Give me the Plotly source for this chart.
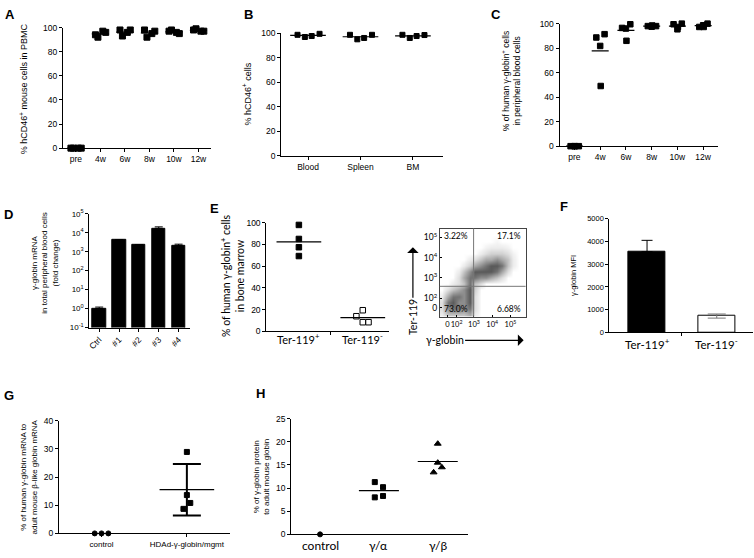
import numpy as np
import plotly.graph_objects as go

W, H = 754, 558

# ---- values ----
# A: % hCD46+ mouse cells in PBMC
a_weeks = ['pre', '4w', '6w', '8w', '10w', '12w']
a_pct = [
    [0, 0, 0, 0],
    [94, 97, 92, 96],
    [98, 96, 93, 98],
    [98, 95, 92, 97],
    [97, 96, 98, 95],
    [98, 97, 99, 97],
]

# B: % hCD46+ cells per tissue
b_tissues = ['Blood', 'Spleen', 'BM']
b_pct = [
    [98.9, 97.1, 97.9, 99.7],
    [98.9, 95.2, 96.3, 98.9],
    [98.9, 96.3, 97.9, 98.7],
]

# C: % of human gamma-globin+ cells in peripheral blood
c_weeks = ['pre', '4w', '6w', '8w', '10w', '12w']
c_pct = [
    [0, 0, 0, 0],
    [88.7, 81.8, 91.4, 49.1],
    [96.5, 96.0, 99.5, 86.0],
    [98.0, 97.5, 98.0, 98.5],
    [99.5, 95.4, 100.0, 97.3],
    [97.3, 98.7, 100.0, 97.3],
]

# D: gamma-globin mRNA fold change
d_samples = ['Ctrl', '#1', '#2', '#3', '#4']
d_fold = [1.0, 4300, 2350, 17000, 2100]
d_err = [0.2, 0, 0, 3500, 400]
d_ticks = [0.1, 1, 10, 100, 1000, 10000, 100000]
d_ticktext = ['10<sup>-1</sup>', '10<sup>0</sup>', '10<sup>1</sup>', '10<sup>2</sup>',
              '10<sup>3</sup>', '10<sup>4</sup>', '10<sup>5</sup>']

# E: % of human gamma-globin+ cells in bone marrow
e_groups = ['Ter-119<sup>+</sup>', 'Ter-119<sup>-</sup>']
e_pos = [97.9, 85.0, 77.4, 69.3]
e_neg = [19.5, 14.0, 8.5, 8.5]

# E (flow plot): density grid, axis in decades (biexponential display)
flow_x = [1.25, 1.55, 1.85, 2.15, 2.45, 2.75, 3.05, 3.35, 3.65, 3.95, 4.25, 4.55, 4.85, 5.15, 5.45, 5.75]
flow_y = [1.2, 1.5, 1.8, 2.1, 2.4, 2.7, 3.0, 3.3, 3.6, 3.9, 4.2, 4.5, 4.8, 5.1, 5.4]
flow_density = [
    [0.5, 2, 2, 2, 2, 3, 0.5, 0, 0, 0, 0, 0, 0, 0, 0, 0],
    [1, 4, 5, 5, 4, 5, 1, 0, 0, 0, 0, 0, 0, 0, 0, 0],
    [1, 5, 6, 4, 4, 6, 1, 0, 0, 0, 0, 0, 0, 0, 0, 0],
    [0.5, 3, 5, 5, 4, 6, 1, 0, 0, 0, 0, 0, 0, 0, 0, 0],
    [0, 1, 2, 3, 4, 6, 1.5, 0, 0, 0, 0, 0, 0, 0, 0, 0],
    [0, 0, 0.5, 1, 2, 5, 2, 1, 0, 0, 0, 0, 0, 0, 0, 0],
    [0, 0, 0, 1, 3, 5, 5, 4, 4, 3, 2, 1, 0, 0, 0, 0],
    [0, 0, 0, 0.5, 2, 4, 6, 6, 6, 6, 5, 3, 1, 0, 0, 0],
    [0, 0, 0, 0, 0.5, 1.5, 3, 4, 5, 6, 6, 5, 2, 0.5, 0, 0],
    [0, 0, 0, 0, 0, 0.5, 1, 2, 3, 3, 4, 3, 2, 0.5, 0, 0],
    [0, 0, 0, 0, 0, 0, 0, 0.5, 1, 1.5, 1.5, 1.5, 1, 0.3, 0, 0],
    [0, 0, 0, 0, 0, 0, 0, 0, 0.3, 0.5, 0.5, 0.5, 0.3, 0, 0, 0],
    [0, 0, 0, 0, 0, 0, 0, 0, 0, 0, 0.2, 0, 0, 0, 0, 0],
    [0] * 16,
    [0] * 16,
]
flow_xticks = [1.55, 2.05, 3, 4, 5]
flow_xticktext = ['0', '10<sup>2</sup>', '10<sup>3</sup>', '10<sup>4</sup>', '10<sup>5</sup>']
flow_yticks = [1.52, 2, 3, 4, 5]
flow_yticktext = ['0', '10<sup>2</sup>', '10<sup>3</sup>', '10<sup>4</sup>', '10<sup>5</sup>']
flow_gate = (2.98, 2.58)
flow_quadrants = ['3.22%', '17.1%', '73.0%', '6.68%']

# F: gamma-globin MFI
f_mfi = [3550, 720]
f_err = [500, 90]

# G: % human gamma-globin mRNA to adult mouse beta-like globin mRNA
g_groups = ['control', 'HDAd-γ-globin/mgmt']
g_control = [0, 0, 0]
g_hdad = [28.9, 13.6, 10.8, 8.7]

# H: % of gamma-globin protein to adult mouse globin
h_groups = ['control', 'γ/α', 'γ/β']
h_control = [0]
h_ga = [11.3, 10.2, 8.3, 8.0]
h_gb = [19.6, 15.5, 14.5, 13.4]

# ---- styling helpers ----
PRISM = 'Liberation Sans, Arial, sans-serif'
CALIBRI = 'Lato, Open Sans, sans-serif'

base_axis = dict(showline=True, linecolor='black', linewidth=1, ticks='outside',
                 ticklen=3, tickwidth=1, tickcolor='black', showgrid=False,
                 zeroline=False, fixedrange=True,
                 tickfont=dict(family=PRISM, size=8.5, color='black'))

layout = {}
annotations = []


def axes(n, box, xr, yr, xkw=None, ykw=None):
    left, right, top, bottom = box
    s = '' if n == 1 else str(n)
    xa = dict(base_axis, domain=[left / W, right / W], range=xr, anchor='y' + s)
    ya = dict(base_axis, domain=[1 - bottom / H, 1 - top / H], range=yr, anchor='x' + s)
    xa.update(xkw or {})
    ya.update(ykw or {})
    layout['xaxis' + s] = xa
    layout['yaxis' + s] = ya
    return s


def cat_labels(s, labels, ypx, size):
    # category labels placed just under the axis line
    for i, lab in enumerate(labels):
        annotations.append(dict(text=lab, x=i, y=1 - ypx / H, xref='x' + s, yref='paper',
                                showarrow=False, xanchor='center', yanchor='middle',
                                font=dict(family=CALIBRI, size=size, color='black')))


def dots(xs, groups, jit, s, symbol='square', size=6, fill='black'):
    px_, py_ = [], []
    for x, vals in zip(xs, groups):
        for j, v in zip(jit, vals):
            px_.append(x + j)
            py_.append(v)
    return go.Scatter(x=px_, y=py_, mode='markers', cliponaxis=False, hoverinfo='skip',
                      marker=dict(symbol=symbol, size=size, color=fill,
                                  line=dict(color='black', width=1)),
                      xaxis='x' + s, yaxis='y' + s)


def mean_lines(xs, groups, half, s, width=1.2):
    lx, ly = [], []
    for x, vals in zip(xs, groups):
        m = float(np.mean(vals))
        lx += [x - half, x + half, None]
        ly += [m, m, None]
    return go.Scatter(x=lx, y=ly, mode='lines', cliponaxis=False, hoverinfo='skip',
                      line=dict(color='black', width=width),
                      xaxis='x' + s, yaxis='y' + s)


fig = go.Figure()

# A
idx = list(range(len(a_weeks)))
s = axes(1, (61, 210, 22, 145), [-0.53, 5.53], [0, 100],
         xkw=dict(tickvals=idx, ticktext=a_weeks),
         ykw=dict(tickvals=[0, 20, 40, 60, 80, 100]))
fig.add_trace(dots(idx, a_pct, [-0.2, 0.1, -0.1, 0.22], s, size=6))
fig.add_trace(mean_lines(idx, a_pct, 0.35, s))

# B
idx = list(range(len(b_tissues)))
s = axes(2, (280, 442, 28, 153), [-0.51, 2.57], [0, 100],
         xkw=dict(tickvals=idx, ticktext=b_tissues),
         ykw=dict(tickvals=[0, 20, 40, 60, 80, 100]))
fig.add_trace(dots(idx, b_pct, [-0.2, -0.06, 0.07, 0.22], s, size=5))
fig.add_trace(mean_lines(idx, b_pct, 0.34, s))

# C
idx = list(range(len(c_weeks)))
s = axes(3, (559, 718, 18, 143), [-0.58, 5.58], [0, 100],
         xkw=dict(tickvals=idx, ticktext=c_weeks),
         ykw=dict(tickvals=[0, 20, 40, 60, 80, 100]))
fig.add_trace(dots(idx, c_pct, [-0.15, 0.0, 0.17, 0.02], s, size=5.5))
fig.add_trace(mean_lines(idx, c_pct, 0.33, s))

# D
idx = list(range(len(d_samples)))
s = axes(4, (87.5, 188, 212, 328), [-0.5, 4.55], [-1, 5],
         xkw=dict(tickvals=idx, ticktext=d_samples, tickangle=-45),
         ykw=dict(type='log', tickvals=d_ticks, ticktext=d_ticktext,
                  tickfont=dict(family=PRISM, size=8, color='black')))
fig.add_trace(go.Bar(x=idx, y=d_fold, width=0.68, marker=dict(color='black', line=dict(color='black', width=1)),
                     error_y=dict(type='data', symmetric=False, array=d_err, arrayminus=[0] * len(d_err),
                                  color='black', thickness=1, width=4),
                     xaxis='x' + s, yaxis='y' + s, hoverinfo='skip'))

# E scatter
s = axes(5, (265, 388, 221, 332), [-0.51, 1.41], [0, 100],
         xkw=dict(tickvals=[0.5], showticklabels=False),
         ykw=dict(tickvals=[0, 20, 40, 60, 80, 100]))
cat_labels(s, e_groups, 339, 11)
fig.add_trace(dots([0], [e_pos], [0, 0, 0, 0], s, size=5.5))
fig.add_trace(dots([1], [e_neg], [0.0, -0.1, 0.0, 0.09], s, size=5.5, fill='white'))
fig.add_trace(mean_lines([0, 1], [e_pos, e_neg], 0.35, s))

# E flow plot
flow_font = dict(family=CALIBRI, size=8.5, color='black')
s = axes(6, (439, 525, 227, 317), [1.13, 5.83], [1.08, 5.43],
         xkw=dict(tickvals=flow_xticks, ticktext=flow_xticktext, mirror=True, ticks='inside',
                  ticklen=2, tickangle=0, tickfont=dict(family=CALIBRI, size=7.5, color='black'),
                  linecolor='#444'),
         ykw=dict(tickvals=flow_yticks, ticktext=flow_yticktext, mirror=True, ticks='inside',
                  ticklen=2, tickfont=flow_font, linecolor='#444'))
fig.add_trace(go.Heatmap(x=flow_x, y=flow_y, z=flow_density, zsmooth='best', showscale=False,
                         colorscale=[[0, 'white'], [0.05, '#f2f2f2'], [0.4, '#b8b8b8'], [1, '#5a5a5a']],
                         zmin=0, zmax=6, xaxis='x' + s, yaxis='y' + s, hoverinfo='skip'))
gate_line = dict(color='#777', width=1)
shapes = [
    dict(type='line', xref='x6', yref='y6 domain', x0=flow_gate[0], x1=flow_gate[0], y0=0, y1=1, line=gate_line),
    dict(type='line', xref='x6 domain', yref='y6', x0=0, x1=1, y0=flow_gate[1], y1=flow_gate[1], line=gate_line),
]
quad_pos = [(0.03, 0.99, 'left', 'top'), (0.97, 0.99, 'right', 'top'),
            (0.03, 0.01, 'left', 'bottom'), (0.97, 0.01, 'right', 'bottom')]
for txt, (qx, qy, xa, ya) in zip(flow_quadrants, quad_pos):
    annotations.append(dict(text=txt, xref='x6 domain', yref='y6 domain', x=qx, y=qy,
                            xanchor=xa, yanchor=ya, showarrow=False, font=flow_font))

# F
s = axes(7, (609, 753, 217, 333), [-0.54, 1.52], [0, 5000],
         xkw=dict(tickvals=[0.5], showticklabels=False),
         ykw=dict(tickvals=[0, 1000, 2000, 3000, 4000, 5000],
                  tickfont=dict(family=PRISM, size=7.5, color='black')))
cat_labels(s, e_groups, 344, 11.5)
fig.add_trace(go.Bar(x=[0], y=[f_mfi[0]], width=0.53,
                     marker=dict(color='black', line=dict(color='black', width=1)),
                     error_y=dict(type='data', symmetric=False, array=[f_err[0]], arrayminus=[0],
                                  color='black', thickness=1, width=5.5),
                     xaxis='x' + s, yaxis='y' + s, hoverinfo='skip'))
fig.add_trace(go.Bar(x=[1], y=[f_mfi[1]], width=0.53,
                     marker=dict(color='white', line=dict(color='black', width=1)),
                     error_y=dict(type='data', array=[f_err[1]], color='#777', thickness=1, width=9),
                     xaxis='x' + s, yaxis='y' + s, hoverinfo='skip'))

# G
s = axes(8, (57, 229, 423, 538), [-0.5, 1.51], [0, 40],
         xkw=dict(tickvals=[0, 1], ticktext=g_groups, tickfont=dict(family=PRISM, size=8, color='black')),
         ykw=dict(tickvals=[0, 10, 20, 30, 40]))
fig.add_trace(dots([0], [g_control], [-0.08, 0, 0.08], s, symbol='circle', size=5))
fig.add_trace(dots([1], [g_hdad], [0, 0, 0.04, -0.04], s, size=5))
g_mean = float(np.mean(g_hdad))
g_sd = float(np.std(g_hdad, ddof=1))
fig.add_trace(mean_lines([1], [g_hdad], 0.32, s, width=1.3))
fig.add_trace(go.Scatter(x=[1], y=[g_mean], mode='markers', marker=dict(size=1, color='rgba(0,0,0,0)'),
                         error_y=dict(type='data', array=[g_sd], color='black', thickness=2, width=14),
                         xaxis='x' + s, yaxis='y' + s, hoverinfo='skip', cliponaxis=False))

# H
s = axes(9, (290, 467, 421, 539), [-0.49, 2.51], [0, 25],
         xkw=dict(tickvals=[0, 1, 2], ticks='', showticklabels=False),
         ykw=dict(tickvals=[0, 5, 10, 15, 20, 25]))
cat_labels(s, h_groups, 550, 12)
fig.add_trace(dots([0], [h_control], [0], s, symbol='circle', size=5))
fig.add_trace(dots([1], [h_ga], [-0.07, 0.07, 0.07, -0.07], s, size=5))
fig.add_trace(dots([2], [h_gb], [0, 0, 0.07, -0.07], s, symbol='triangle-up', size=6))
fig.add_trace(mean_lines([1, 2], [h_ga, h_gb], 0.34, s))

# panel letters
for letter, lx, ly in [('A', 8, 9), ('B', 247, 9), ('C', 495, 9), ('D', 7, 213),
                       ('E', 213, 207), ('F', 563, 205), ('G', 7, 397), ('H', 259, 395)]:
    annotations.append(dict(text=f'<b>{letter}</b>', x=lx / W, y=1 - ly / H, xref='paper', yref='paper',
                            showarrow=False, xanchor='center', yanchor='middle',
                            font=dict(family=PRISM, size=13, color='black')))

# y-axis titles
ytitles = [
    ('% hCD46<sup>+</sup> mouse cells in PBMC', 22, 84, PRISM, 9),
    ('% hCD46<sup>+</sup> cells', 246, 90, PRISM, 9),
    ('% of human γ-globin<sup>+</sup> cells<br>in peripheral blood cells', 511, 77, PRISM, 8.5),
    ('γ-globin mRNA<br>in total peripheral blood cells<br>(fold change)', 43, 262, PRISM, 8),
    ('% of human γ-globin<sup>+</sup> cells<br>in bone marrow', 231, 275, CALIBRI, 10.5),
    ('γ-globin MFI', 573, 275, PRISM, 7.5),
    ('% of human γ-globin mRNA to<br>adult mouse β-like globin mRNA', 27, 480, PRISM, 8),
    ('% of γ-globin protein<br>to adult mouse globin', 260, 480, PRISM, 8),
]
for txt, tx, ty, fam, size in ytitles:
    annotations.append(dict(text=txt, x=tx / W, y=1 - ty / H, xref='paper', yref='paper',
                            showarrow=False, textangle=-90, xanchor='center', yanchor='middle',
                            font=dict(family=fam, size=size, color='black')))

# flow plot axis labels with arrows (text sits at the arrow tail)
annotations += [
    dict(text='Ter-119', textangle=-90, x=412 / W, y=1 - 246 / H, xref='paper', yref='paper',
         showarrow=True, ax=0, ay=70, arrowhead=1, arrowsize=1.6, arrowwidth=1.2, arrowcolor='black',
         standoff=0, font=dict(family=CALIBRI, size=10.5, color='black')),
    dict(text='γ-globin', x=523 / W, y=1 - 341 / H, xref='paper', yref='paper',
         showarrow=True, ax=-79, ay=0, arrowhead=1, arrowsize=1.6, arrowwidth=1.2, arrowcolor='black',
         standoff=0, font=dict(family=CALIBRI, size=10.5, color='black')),
]

fig.update_layout(**layout)
fig.update_layout(width=W, height=H, margin=dict(l=0, r=0, t=0, b=0),
                  plot_bgcolor='white', paper_bgcolor='white', showlegend=False,
                  bargap=0, shapes=shapes, annotations=annotations)

# drop the page's default body margin so the figure sits at the window's corner
fig.write_html("out.html", config={'displayModeBar': False},
               post_script="document.body.style.margin='0';")
